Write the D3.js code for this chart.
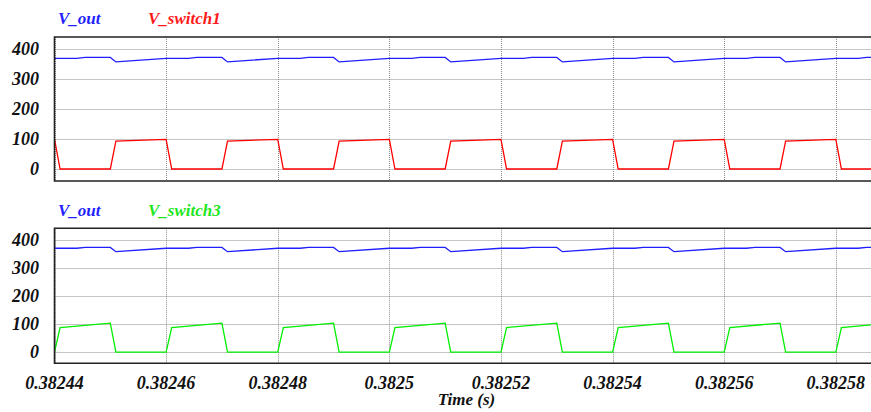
<!DOCTYPE html>
<html>
<head>
<meta charset="utf-8">
<script src="https://cdn.jsdelivr.net/npm/d3@7"></script>
<style>
  body { margin: 0; background: #fff; }
  svg { display: block; }
  text { font-family: "Liberation Serif", "Times New Roman", serif; font-weight: bold; font-style: italic; }
</style>
</head>
<body>
<svg id="chart" width="871" height="412"></svg>
<script>
// time axis: breakpoints given in microseconds after t0
var t0 = 0.38244;
var tEnd = 146.3;

var xTicks = [0.38244, 0.38246, 0.38248, 0.38250, 0.38252, 0.38254, 0.38256, 0.38258];
var xTickLabels = ["0.38244", "0.38246", "0.38248", "0.3825", "0.38252", "0.38254", "0.38256", "0.38258"];
var yTicks = [0, 100, 200, 300, 400];

// V_out (same waveform in both panels)
var voutT = [0, 4, 5.5, 10, 11, 20, 24, 25.5, 30, 31, 40, 44, 45.5, 50, 51, 60, 64, 65.5, 70, 71,
             80, 84, 85.5, 90, 91, 100, 104, 105.5, 110, 111, 120, 124, 125.5, 130, 131, 140, 144, 145.5, 146.3];
var voutV = [369, 369, 372, 372, 357, 369, 369, 372, 372, 357, 369, 369, 372, 372, 357, 369, 369, 372, 372, 357,
             369, 369, 372, 372, 357, 369, 369, 372, 372, 357, 369, 369, 372, 372, 357, 369, 369, 372, 372];

// V_switch1
var sw1T = [0, 1, 10, 11, 20, 21, 30, 31, 40, 41, 50, 51, 60, 61, 70, 71, 80, 81, 90, 91,
            100, 101, 110, 111, 120, 121, 130, 131, 140, 141, 146.3];
var sw1V = [100, 0, 0, 93, 99, 0, 0, 93, 99, 0, 0, 93, 99, 0, 0, 93, 99, 0, 0, 93,
            99, 0, 0, 93, 99, 0, 0, 93, 99, 0, 0];

// V_switch3
var sw3T = [0, 1, 10, 11, 20, 21, 30, 31, 40, 41, 50, 51, 60, 61, 70, 71, 80, 81, 90, 91,
            100, 101, 110, 111, 120, 121, 130, 131, 140, 141, 146.3];
var sw3V = [0, 87, 103, 0, 0, 87, 103, 0, 0, 87, 103, 0, 0, 87, 103, 0, 0, 87, 103, 0,
            0, 87, 103, 0, 0, 87, 103, 0, 0, 87, 96.5];

var toPts = function (ts, vs) {
    return ts.map(function (t, i) { return [t0 + t * 1e-6, vs[i]]; });
};

var svg = d3.select("#chart");
var left = 54.5, right = 871;

var x = d3.scaleLinear()
    .domain([t0, t0 + tEnd * 1e-6])
    .range([left, right]);

var panels = [
    { top: 37, bottom: 181, legend: 24, name2: "V_switch1", color2: "#ff0000", text2: "#ff1a1a", pts2: toPts(sw1T, sw1V) },
    { top: 228.3, bottom: 363.3, legend: 215.5, name2: "V_switch3", color2: "#00ee00", text2: "#1ee61e", pts2: toPts(sw3T, sw3V) }
];

panels.forEach(function (p, pi) {
    var y = d3.scaleLinear().domain([-40, 440]).range([p.bottom, p.top]);
    var g = svg.append("g");

    g.append("clipPath").attr("id", "clip" + pi)
        .append("rect")
        .attr("x", left).attr("y", p.top)
        .attr("width", right - left).attr("height", p.bottom - p.top);

    // dotted grid
    g.selectAll(".hgrid").data(yTicks).enter().append("line")
        .attr("x1", left).attr("x2", right)
        .attr("y1", function (d) { return Math.round(y(d)) + 0.5; })
        .attr("y2", function (d) { return Math.round(y(d)) + 0.5; })
        .attr("stroke", "#8a8a8a").attr("stroke-dasharray", "1,1");
    g.selectAll(".vgrid").data(xTicks).enter().append("line")
        .attr("x1", function (d) { return Math.round(x(d)) + 0.5; })
        .attr("x2", function (d) { return Math.round(x(d)) + 0.5; })
        .attr("y1", p.top).attr("y2", p.bottom)
        .attr("stroke", "#8a8a8a").attr("stroke-dasharray", "1,1");

    // y tick labels
    g.selectAll(".ylab").data(yTicks).enter().append("text")
        .attr("x", 39).attr("y", function (d) { return y(d); })
        .attr("dy", "0.35em")
        .attr("text-anchor", "end")
        .attr("font-size", 18)
        .attr("fill", "#111")
        .text(function (d) { return d; });

    var line = d3.line()
        .x(function (d) { return x(d[0]); })
        .y(function (d) { return y(d[1]); });

    var plot = g.append("g").attr("clip-path", "url(#clip" + pi + ")");
    plot.append("path").datum(toPts(voutT, voutV))
        .attr("d", line).attr("fill", "none")
        .attr("stroke", "#1f1fff").attr("stroke-width", 1.3);
    plot.append("path").datum(p.pts2)
        .attr("d", line).attr("fill", "none")
        .attr("stroke", p.color2).attr("stroke-width", 1.3);

    // frame (no right edge visible)
    g.append("path")
        .attr("d", "M" + right + "," + p.top + "H" + left + "V" + p.bottom + "H" + right)
        .attr("fill", "none").attr("stroke", "#222").attr("stroke-width", 1.6);

    // legend
    g.append("text").attr("x", 58).attr("y", p.legend)
        .attr("font-size", 17).attr("fill", "#1f1fff").text("V_out");
    g.append("text").attr("x", 148).attr("y", p.legend)
        .attr("font-size", 17).attr("fill", p.text2).text(p.name2);
});

// x tick labels under the lower panel
svg.selectAll(".xlab").data(xTicks).enter().append("text")
    .attr("x", function (d) { return x(d); })
    .attr("y", 388.5)
    .attr("text-anchor", "middle")
    .attr("font-size", 18)
    .attr("fill", "#111")
    .text(function (d, i) { return xTickLabels[i]; });

svg.append("text")
    .attr("x", 466.5).attr("y", 405)
    .attr("text-anchor", "middle")
    .attr("font-size", 17)
    .attr("fill", "#111")
    .text("Time (s)");
</script>
</body>
</html>
